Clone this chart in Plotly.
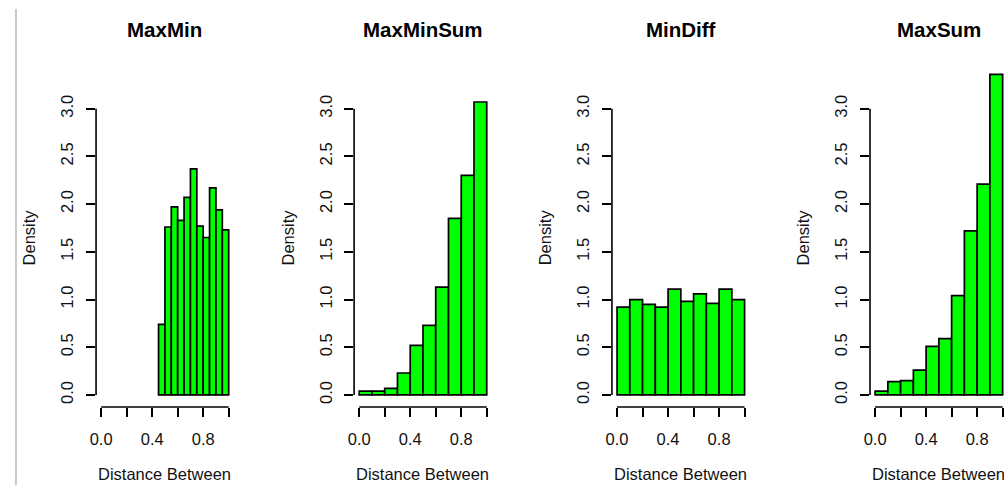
import plotly.graph_objects as go

# ---------------- data ----------------
titles = ["MaxMin", "MaxMinSum", "MinDiff", "MaxSum"]

edges_maxmin = [0.45, 0.50, 0.55, 0.60, 0.65, 0.70, 0.75, 0.80, 0.85, 0.90, 0.95, 1.00]
dens_maxmin = [0.74, 1.76, 1.97, 1.83, 2.07, 2.37, 1.77, 1.65, 2.17, 1.94, 1.73]

edges_tenth = [0.0, 0.1, 0.2, 0.3, 0.4, 0.5, 0.6, 0.7, 0.8, 0.9, 1.0]
dens_maxminsum = [0.04, 0.04, 0.07, 0.23, 0.52, 0.73, 1.13, 1.85, 2.30, 3.07]
dens_mindiff = [0.92, 1.00, 0.95, 0.92, 1.11, 0.98, 1.06, 0.96, 1.11, 1.00]
dens_maxsum = [0.04, 0.14, 0.15, 0.26, 0.51, 0.59, 1.04, 1.72, 2.21, 3.36]

panel_edges = [edges_maxmin, edges_tenth, edges_tenth, edges_tenth]
panel_dens = [dens_maxmin, dens_maxminsum, dens_mindiff, dens_maxsum]

x_ticks = [0.0, 0.2, 0.4, 0.6, 0.8, 1.0]
x_tick_labels = ["0.0", "", "0.4", "", "0.8", ""]
y_ticks = [0.0, 0.5, 1.0, 1.5, 2.0, 2.5, 3.0]
y_tick_labels = ["0.0", "0.5", "1.0", "1.5", "2.0", "2.5", "3.0"]
x_title = "Distance Between"
y_title = "Density"

# ---------------- layout constants ----------------
W, H = 1004, 485
FONT = "Liberation Sans, Arial, sans-serif"
px_per_x = 128.3
panel_left_px = [90.6, 350.2, 609.6, 869.2]
x_lo = -0.04
x_hi = 1.04
y_range = [-0.126, 3.426]
y_bottom_px, y_top_px = 407.0, 68.0

fig = go.Figure()
layout = dict(
    width=W, height=H,
    margin=dict(l=0, r=0, t=0, b=0),
    paper_bgcolor="white", plot_bgcolor="white",
    showlegend=False,
    font=dict(family=FONT, size=16, color="black"),
)
shapes = []
annotations = []

for i in range(4):
    n = "" if i == 0 else str(i + 1)
    edges = panel_edges[i]
    dens = panel_dens[i]
    centers = [(a + b) / 2 for a, b in zip(edges[:-1], edges[1:])]
    widths = [b - a for a, b in zip(edges[:-1], edges[1:])]
    fig.add_trace(go.Bar(
        x=centers, y=dens, width=widths,
        marker=dict(color="#00ff00", line=dict(color="black", width=1.7)),
        xaxis="x" + n, yaxis="y" + n, hoverinfo="x+y",
    ))

    left = panel_left_px[i]
    right = min(left + (x_hi - x_lo) * px_per_x, W)
    xr_hi = x_lo + (right - left) / px_per_x
    layout["xaxis" + n] = dict(
        domain=[left / W, right / W], range=[x_lo, xr_hi],
        anchor="y" + n, showgrid=False, zeroline=False, showline=False,
        ticks="outside", ticklen=9, tickwidth=1.6, tickcolor="black",
        tickvals=x_ticks, ticktext=x_tick_labels,
        tickfont=dict(family=FONT, size=16.5, color="#111"),
        ticklabelstandoff=8,
    )
    layout["yaxis" + n] = dict(
        domain=[1 - y_bottom_px / H, 1 - y_top_px / H], range=y_range,
        anchor="x" + n, showgrid=False, zeroline=False, showline=False,
        ticks="outside", ticklen=9, tickwidth=1.6, tickcolor="black",
        tickvals=y_ticks, ticktext=y_tick_labels, tickangle=-90,
        tickfont=dict(family=FONT, size=16.5, color="#111"),
        ticklabelstandoff=6,
    )
    # R-style axis lines spanning only from the first to the last tick
    shapes.append(dict(type="line", xref="x" + n + " domain", yref="y" + n,
                       x0=0, x1=0, y0=y_ticks[0], y1=y_ticks[-1],
                       line=dict(color="black", width=1.6)))
    shapes.append(dict(type="line", xref="x" + n, yref="y" + n + " domain",
                       x0=x_ticks[0], x1=x_ticks[-1], y0=0, y1=0,
                       line=dict(color="black", width=1.6)))

    cx = (left + left + (x_hi - x_lo) * px_per_x) / 2 / W
    annotations.append(dict(text=titles[i], xref="paper", yref="paper",
                            x=cx, y=1 - 29 / H, xanchor="center", yanchor="middle",
                            showarrow=False,
                            font=dict(family=FONT, size=20.5, color="black", weight="bold")))
    annotations.append(dict(text=x_title, xref="paper", yref="paper",
                            x=cx, y=1 - 474 / H, xanchor="center", yanchor="middle",
                            showarrow=False,
                            font=dict(family=FONT, size=16.5, color="#111")))
    annotations.append(dict(text=y_title, xref="paper", yref="paper",
                            x=(left - 67.5) / W, y=1 - 237.5 / H,
                            xanchor="center", yanchor="middle", textangle=-90,
                            showarrow=False,
                            font=dict(family=FONT, size=16.5, color="#111")))

# light grey frame line at the left edge of the capture
shapes.append(dict(type="line", xref="paper", yref="paper",
                   x0=10 / W, x1=10 / W, y0=0, y1=1 - 9 / H,
                   line=dict(color="#c8c8c8", width=2)))

layout["shapes"] = shapes
layout["annotations"] = annotations
fig.update_layout(**layout)
fig.write_html("out.html")
